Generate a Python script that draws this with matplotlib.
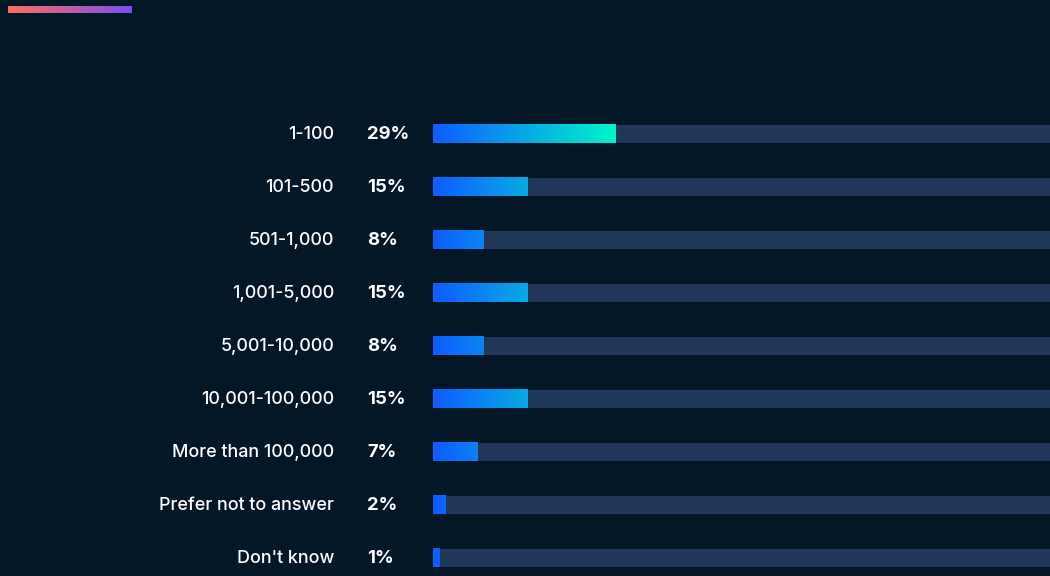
import numpy as np
import matplotlib.pyplot as plt
from matplotlib.colors import LinearSegmentedColormap

categories = ['1-100', '101-500', '501-1,000', '1,001-5,000', '5,001-10,000',
              '10,001-100,000', 'More than 100,000', 'Prefer not to answer', "Don't know"]
values = [29, 15, 8, 15, 8, 15, 7, 2, 1]

bg = '#041727'
track = '#21375A'
bar_cmap = LinearSegmentedColormap.from_list('bar', ['#0E5CFF', '#00F5C8'])
top_cmap = LinearSegmentedColormap.from_list('top', ['#FF6E5C', '#7B4FEF'])

plt.rcParams['font.family'] = ['Inter', 'DejaVu Sans']

fig = plt.figure(figsize=(10.5, 5.76), dpi=100, facecolor=bg)

# little accent line top-left
acc = fig.add_axes([8 / 1050, 1 - 13 / 576, 124 / 1050, 7 / 576])
acc.imshow(np.linspace(0, 1, 256)[None, :], cmap=top_cmap, aspect='auto')
acc.axis('off')

ax = fig.add_axes([433 / 1050, 0, 617 / 1050, 1])
ax.set_facecolor(bg)
vmax = max(values)
px_per_pct = 6.31
h = 0.34

grad = np.linspace(0, 1, 256)[None, :]
for i, (cat, v) in enumerate(zip(categories, values)):
    ax.barh(i, 100, height=h, color=track, zorder=1)
    ax.imshow(grad * v / vmax, cmap=bar_cmap, vmin=0, vmax=1, aspect='auto',
              extent=(0, v, i + h / 2, i - h / 2), zorder=2)
    ax.text(-0.1605, i + 0.01, cat, transform=ax.get_yaxis_transform(), ha='right', va='center',
            color='white', fontsize=12.9, fontweight='medium', clip_on=False)
    ax.text(-0.107, i + 0.01, f'{v}%', transform=ax.get_yaxis_transform(), ha='left', va='center',
            color='white', fontsize=13.3, fontweight='bold', clip_on=False)

ax.set_xlim(0, 617 / px_per_pct)
ax.set_ylim(8.34, -2.53)
ax.axis('off')

fig.savefig('out.png', dpi=100, facecolor=bg)
